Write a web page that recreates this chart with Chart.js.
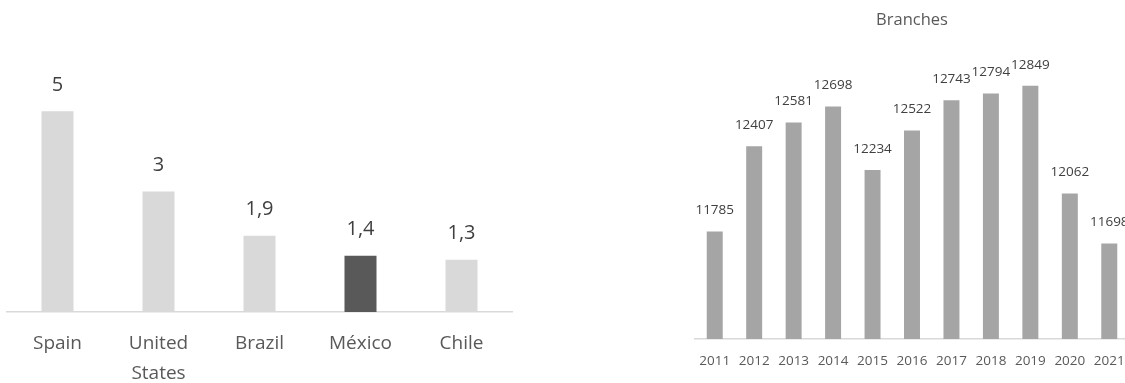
<!DOCTYPE html>
<html>
<head>
<meta charset="utf-8">
<script src="https://cdn.jsdelivr.net/npm/chart.js@4.4.1/dist/chart.umd.min.js"></script>
<style>
  html, body { margin: 0; padding: 0; background: #fff; overflow: hidden; }
  body { width: 1125px; height: 383px; position: relative; }
  .panel { position: absolute; top: 0; }
  #leftPanel { left: 0; width: 560px; height: 383px; }
  #rightPanel { left: 680px; width: 464px; height: 383px; }
</style>
</head>
<body>
<div class="panel" id="leftPanel"><canvas id="countryChart" width="560" height="383"></canvas></div>
<div class="panel" id="rightPanel"><canvas id="branchChart" width="464" height="383"></canvas></div>
<script>
// left chart data
const countries = ['Spain', ['United', 'States'], 'Brazil', 'México', 'Chile'];
const countryValues = [5, 3, 1.9, 1.4, 1.3];

// right chart data
const years = ['2011', '2012', '2013', '2014', '2015', '2016', '2017', '2018', '2019', '2020', '2021'];
const branches = [11785, 12407, 12581, 12698, 12234, 12522, 12743, 12794, 12849, 12062, 11698];

const FONT = "'Open Sans', 'DejaVu Sans', sans-serif";

// simple value label plugin (draws text above each bar)
function valueLabels(opts) {
    return {
        id: 'valueLabels',
        afterDatasetsDraw(chart) {
            const ctx = chart.ctx;
            const meta = chart.getDatasetMeta(0);
            const data = chart.data.datasets[0].data;
            ctx.save();
            ctx.font = opts.size + 'px ' + FONT;
            ctx.fillStyle = opts.color;
            ctx.textAlign = 'center';
            ctx.textBaseline = 'middle';
            meta.data.forEach((bar, i) => {
                ctx.fillText(opts.format(data[i]), bar.x, bar.y - opts.offset);
            });
            ctx.restore();
        }
    };
}

new Chart(document.getElementById('countryChart'), {
    type: 'bar',
    data: {
        labels: countries,
        datasets: [{
            data: countryValues,
            backgroundColor: ctx => countries[ctx.dataIndex] === 'México' ? '#595959' : '#d9d9d9',
            borderWidth: 0,
            categoryPercentage: 1,
            barPercentage: 0.317
        }]
    },
    options: {
        responsive: false,
        animation: false,
        devicePixelRatio: 1,
        layout: { padding: { top: 71, left: 7, right: 48, bottom: 0 } },
        plugins: { legend: { display: false }, tooltip: { enabled: false } },
        scales: {
            x: {
                grid: { display: false, drawTicks: false },
                border: { display: true, color: '#d9d9d9', width: 1.5 },
                ticks: {
                    color: '#595959',
                    padding: 17,
                    font: { family: FONT, size: 19, lineHeight: 1.55 }
                },
                afterFit: axis => { axis.height = 71; }
            },
            y: {
                display: false,
                min: 0,
                max: 6
            }
        }
    },
    plugins: [valueLabels({
        size: 20, color: '#404040', offset: 26,
        format: v => String(v).replace('.', ',')
    })]
});

new Chart(document.getElementById('branchChart'), {
    type: 'bar',
    data: {
        labels: years,
        datasets: [{
            data: branches,
            backgroundColor: '#a5a5a5',
            borderWidth: 0,
            categoryPercentage: 1,
            barPercentage: 0.405
        }]
    },
    options: {
        responsive: false,
        animation: false,
        devicePixelRatio: 1,
        layout: { padding: { top: 0, left: 15, right: 15, bottom: 0 } },
        plugins: {
            legend: { display: false },
            tooltip: { enabled: false },
            title: {
                display: true,
                text: 'Branches',
                color: '#595959',
                font: { family: FONT, size: 16.5, weight: 'normal', lineHeight: 1.2 },
                padding: { top: 10, bottom: 8 }
            }
        },
        scales: {
            x: {
                grid: { display: false, drawTicks: false },
                border: { display: true, color: '#d9d9d9', width: 1.5 },
                ticks: {
                    color: '#595959',
                    padding: 14,
                    font: { family: FONT, size: 13.5 }
                },
                afterFit: axis => { axis.height = 44; }
            },
            y: {
                display: false,
                min: 11000,
                max: 13200
            }
        }
    },
    plugins: [valueLabels({
        size: 13.5, color: '#404040', offset: 21,
        format: v => String(v)
    })]
});
</script>
</body>
</html>
